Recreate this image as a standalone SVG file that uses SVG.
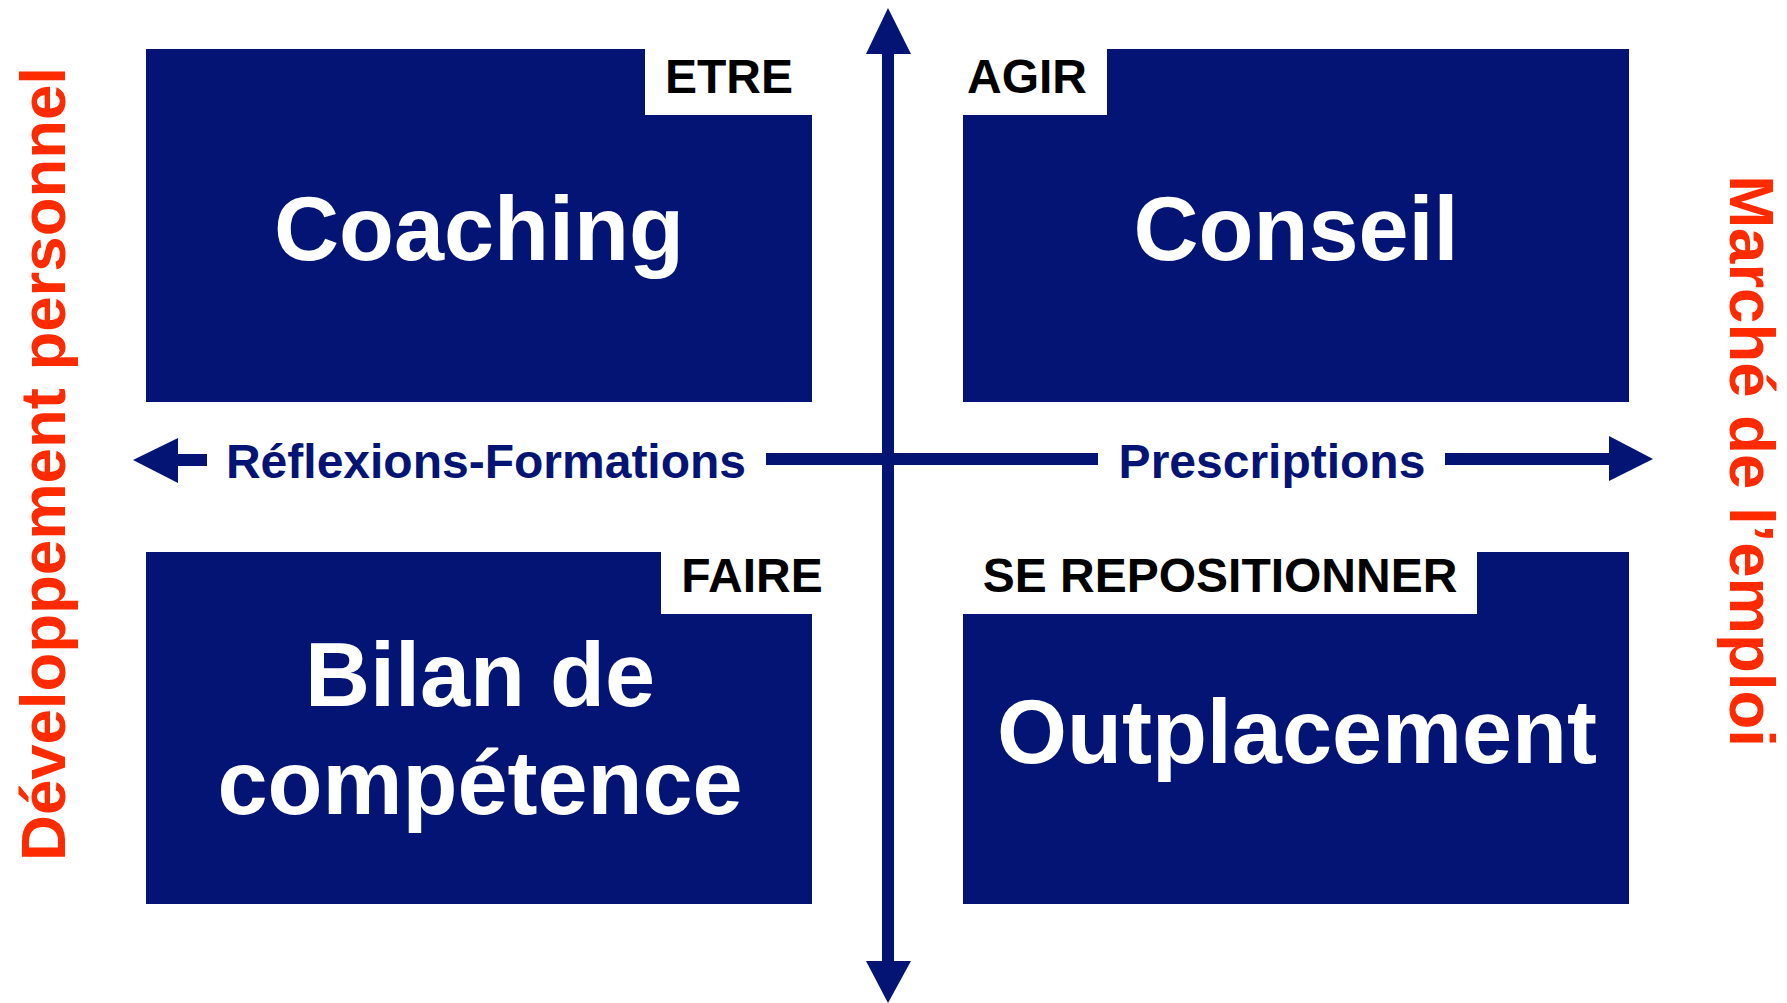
<svg xmlns="http://www.w3.org/2000/svg" width="1787" height="1003" viewBox="0 0 1787 1003">
  <style>
    .box { fill: #041475; }
    .tab { fill: #ffffff; }
    .t { font-family: "Liberation Sans", Arial, sans-serif; font-weight: bold; }
    .big { font-size: 90px; fill: #ffffff; text-anchor: middle; }
    .lbl { font-size: 48px; fill: #000000; text-anchor: middle; }
    .axis { font-size: 48px; fill: #041475; text-anchor: middle; }
    .side { font-size: 63.5px; fill: #ff2b00; text-anchor: middle; }
    .ln { fill: #041475; }
  </style>
  <rect x="0" y="0" width="1787" height="1003" fill="#ffffff"/>

  <g id="connectors">
    <!-- vertical axis -->
    <rect class="ln" x="882" y="50" width="12" height="915"/>
    <polygon class="ln" points="888,8 911,54 866,54"/>
    <polygon class="ln" points="888,1003 911,961 866,961"/>
    <!-- horizontal axis -->
    <rect class="ln" x="176" y="454" width="31" height="12"/>
    <polygon class="ln" points="133,460 178,438 178,483"/>
    <rect class="ln" x="766" y="453" width="332" height="12"/>
    <rect class="ln" x="1445" y="453" width="166" height="12"/>
    <polygon class="ln" points="1653,459 1609,436 1609,481"/>
  </g>

  <g id="axis-labels">
    <text class="t axis" x="486" y="478">Réflexions-Formations</text>
    <text class="t axis" x="1272" y="478">Prescriptions</text>
    <text class="t side" transform="translate(65,464) rotate(-90)">Développement personnel</text>
    <text class="t side" transform="translate(1730,461) rotate(90)">Marché de l’emploi</text>
  </g>

  <g id="node-coaching">
    <rect class="box" x="146" y="49" width="666" height="353"/>
    <rect class="tab" x="645" y="49" width="167" height="66"/>
    <text class="t lbl" x="729" y="93">ETRE</text>
    <text class="t big" x="479" y="260">Coaching</text>
  </g>

  <g id="node-conseil">
    <rect class="box" x="963" y="49" width="666" height="353"/>
    <rect class="tab" x="963" y="49" width="144" height="66"/>
    <text class="t lbl" x="1027" y="93">AGIR</text>
    <text class="t big" x="1296" y="260">Conseil</text>
  </g>

  <g id="node-bilan">
    <rect class="box" x="146" y="552" width="666" height="352"/>
    <rect class="tab" x="661" y="552" width="151" height="62"/>
    <text class="t lbl" x="752" y="592">FAIRE</text>
    <text class="t big" x="480" y="706">Bilan de</text>
    <text class="t big" x="480" y="814">compétence</text>
  </g>

  <g id="node-outplacement">
    <rect class="box" x="963" y="552" width="666" height="352"/>
    <rect class="tab" x="963" y="552" width="514" height="62"/>
    <text class="t lbl" x="1220" y="592">SE REPOSITIONNER</text>
    <text class="t big" x="1297" y="763">Outplacement</text>
  </g>
</svg>
